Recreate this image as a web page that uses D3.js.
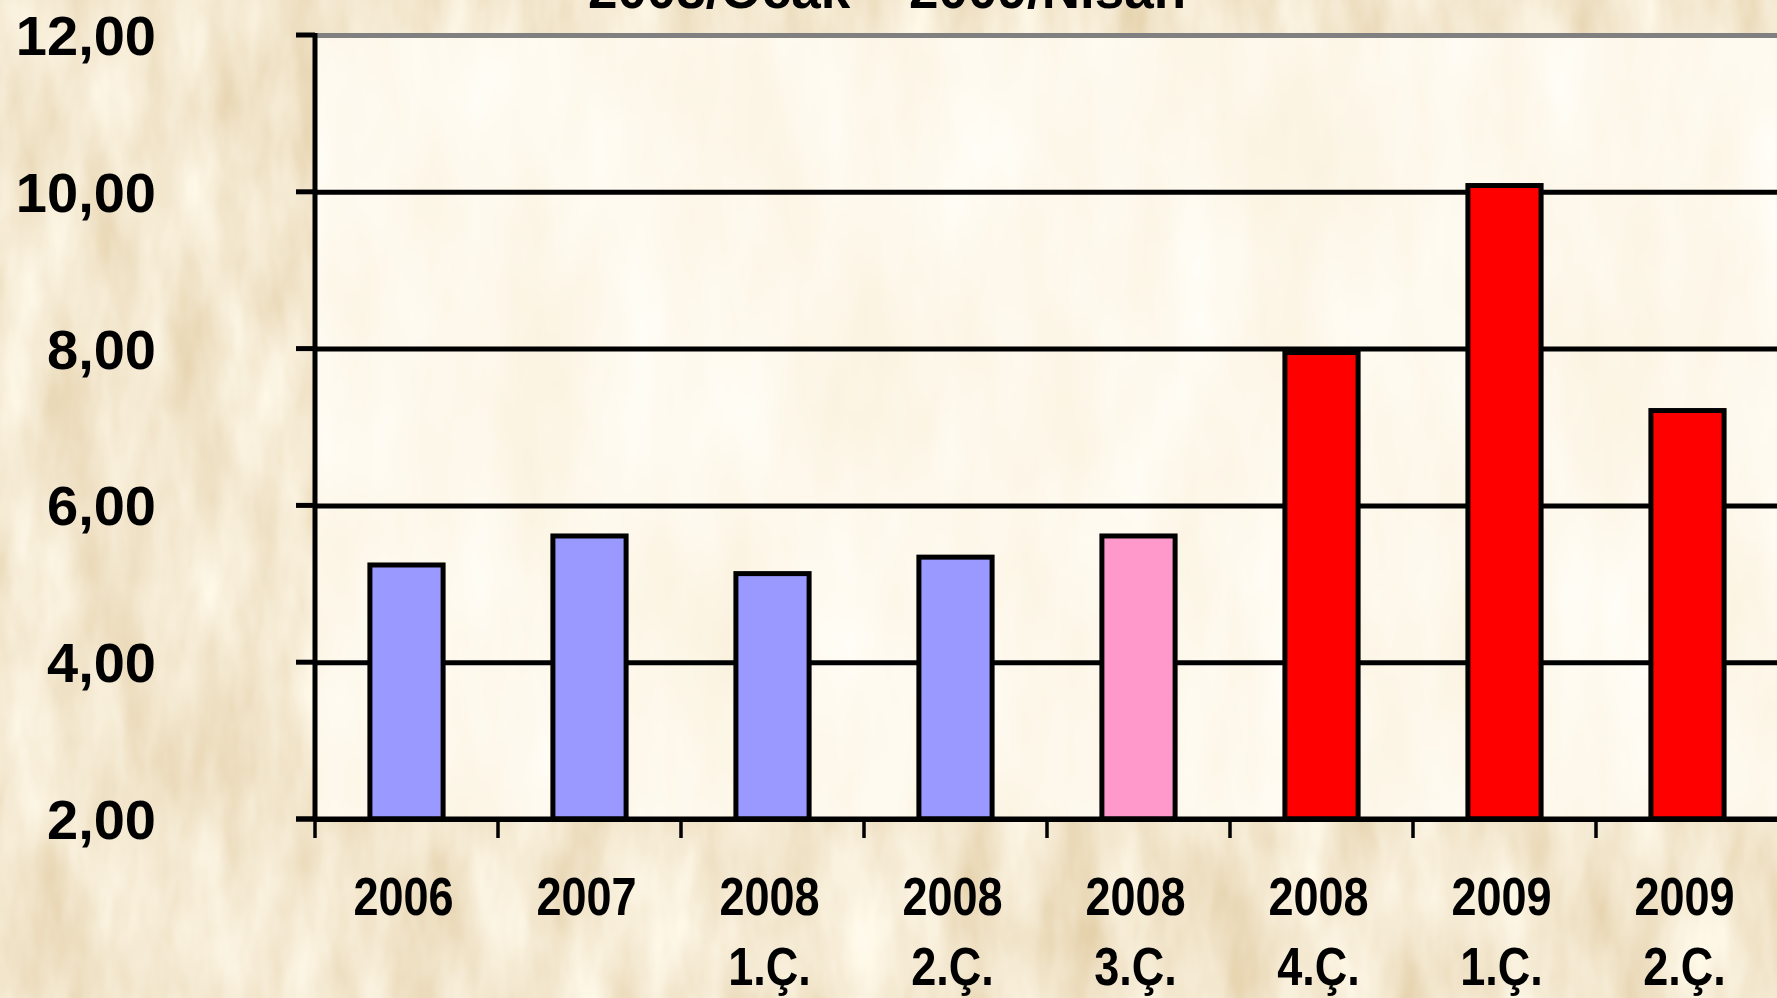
<!DOCTYPE html>
<html>
<head>
<meta charset="utf-8">
<script src="https://cdn.jsdelivr.net/npm/d3@7"></script>
<style>
  html, body { margin: 0; padding: 0; overflow: hidden; background: #e4cc9c; }
  svg { display: block; }
</style>
</head>
<body>
<svg id="chart"></svg>
<script>
'use strict';

const years = ['2006', '2007', '2008', '2008', '2008', '2008', '2009', '2009'];
const quarters = ['', '', '1.Ç.', '2.Ç.', '3.Ç.', '4.Ç.', '1.Ç.', '2.Ç.'];
const values = [5.24, 5.61, 5.13, 5.34, 5.61, 7.95, 10.08, 7.21];
const groups = ['yil', 'yil', 'yil', 'yil', 'onceki', 'kriz', 'kriz', 'kriz'];
const yTicks = [2, 4, 6, 8, 10, 12];
const title = '2008/Ocak – 2009/Nisan';

const WIDTH = 1777;
const HEIGHT = 998;
const PLOT_LEFT = 315;
const PLOT_RIGHT = 1779;
const PLOT_TOP = 35;
const PLOT_BOTTOM = 819;
const TICK = 19;
const BAR_RATIO = 0.4;
const LINE_W = 5;
const FONT = '"Liberation Sans", Arial, sans-serif';

let svg = d3.select('#chart')
  .attr('width', WIDTH)
  .attr('height', HEIGHT);

let defs = svg.append('defs');

// parchment texture, outer and plot area
function paperFilter(id, freq, seed, rows) {
  let f = defs.append('filter')
    .attr('id', id)
    .attr('x', 0).attr('y', 0)
    .attr('width', 1).attr('height', 1);
  f.append('feTurbulence')
    .attr('type', 'fractalNoise')
    .attr('baseFrequency', freq)
    .attr('numOctaves', 4)
    .attr('seed', seed);
  f.append('feColorMatrix')
    .attr('type', 'matrix')
    .attr('values', rows);
}

paperFilter('paper', '0.018 0.006', 7,
  '0.304 0 0 0 0.748  0.441 0 0 0 0.585  0.588 0 0 0 0.334  0 0 0 0 1');
paperFilter('cream', '0.012 0.004', 11,
  '0.069 0 0 0 0.952  0.128 0 0 0 0.876  0.255 0 0 0 0.708  0 0 0 0 1');

svg.append('rect')
  .attr('width', WIDTH)
  .attr('height', HEIGHT)
  .attr('filter', 'url(#paper)');

let x = d3.scaleBand()
  .domain(d3.range(values.length))
  .range([PLOT_LEFT, PLOT_RIGHT])
  .padding(0);

let y = d3.scaleLinear()
  .domain([2, 12])
  .range([PLOT_BOTTOM, PLOT_TOP]);

let color = d3.scaleOrdinal()
  .domain(['yil', 'onceki', 'kriz'])
  .range(['#9999ff', '#ff99cc', '#ff0000']);

svg.append('rect')
  .attr('x', PLOT_LEFT)
  .attr('y', PLOT_TOP)
  .attr('width', PLOT_RIGHT - PLOT_LEFT)
  .attr('height', PLOT_BOTTOM - PLOT_TOP)
  .attr('filter', 'url(#cream)');

// title, mostly cut off by the top edge as in the source slide
svg.append('text')
  .attr('x', 887)
  .attr('y', 8)
  .attr('text-anchor', 'middle')
  .attr('font-family', FONT)
  .attr('font-weight', 'bold')
  .attr('font-size', 53)
  .text(title);

// gridlines: the top one is the grey plot border
let yAxis = d3.axisLeft(y)
  .tickValues(yTicks)
  .tickSize(-(PLOT_RIGHT - PLOT_LEFT))
  .tickSizeOuter(0)
  .tickFormat('');

let grid = svg.append('g')
  .attr('transform', 'translate(' + PLOT_LEFT + ',0)')
  .call(yAxis);
grid.select('.domain').remove();
grid.selectAll('.tick line')
  .attr('stroke', function(d) { return d === 12 ? '#808080' : '#000'; })
  .attr('stroke-width', LINE_W);

// small ticks left of the axis
svg.append('g')
  .selectAll('line')
  .data(yTicks)
  .enter().append('line')
    .attr('x1', PLOT_LEFT - TICK)
    .attr('x2', PLOT_LEFT)
    .attr('y1', function(d) { return y(d); })
    .attr('y2', function(d) { return y(d); })
    .attr('stroke', '#000')
    .attr('stroke-width', LINE_W);

svg.append('g')
  .selectAll('text')
  .data(yTicks)
  .enter().append('text')
    .attr('x', 156)
    .attr('y', function(d) { return y(d) + 20; })
    .attr('text-anchor', 'end')
    .attr('font-family', FONT)
    .attr('font-weight', 'bold')
    .attr('font-size', 56)
    .text(function(d) { return d3.format('.2f')(d).replace('.', ','); });

// bars
let barW = x.bandwidth() * BAR_RATIO;
svg.append('g')
  .selectAll('rect')
  .data(values)
  .enter().append('rect')
    .attr('x', function(d, i) { return x(i) + (x.bandwidth() - barW) / 2; })
    .attr('y', function(d) { return y(d); })
    .attr('width', barW)
    .attr('height', function(d) { return y(2) - y(d); })
    .attr('fill', function(d, i) { return color(groups[i]); })
    .attr('stroke', '#000')
    .attr('stroke-width', LINE_W);

// axes
svg.append('line')
  .attr('x1', PLOT_LEFT).attr('x2', PLOT_LEFT)
  .attr('y1', PLOT_TOP - 2).attr('y2', PLOT_BOTTOM)
  .attr('stroke', '#000')
  .attr('stroke-width', LINE_W);

svg.append('line')
  .attr('x1', PLOT_LEFT - TICK).attr('x2', PLOT_RIGHT)
  .attr('y1', PLOT_BOTTOM).attr('y2', PLOT_BOTTOM)
  .attr('stroke', '#000')
  .attr('stroke-width', LINE_W);

let edges = d3.range(values.length + 1).map(function(i) {
  return PLOT_LEFT + i * x.step();
});

svg.append('g')
  .selectAll('line')
  .data(edges)
  .enter().append('line')
    .attr('x1', function(d) { return d; })
    .attr('x2', function(d) { return d; })
    .attr('y1', PLOT_BOTTOM)
    .attr('y2', PLOT_BOTTOM + TICK)
    .attr('stroke', '#000')
    .attr('stroke-width', 3.5);

// category labels, narrow bold
let labels = svg.append('g')
  .selectAll('g')
  .data(years)
  .enter().append('g')
    .attr('transform', function(d, i) {
      return 'translate(' + (x(i) + x.bandwidth() / 2 - 3) + ',0) scale(0.85,1)';
    })
    .attr('font-family', FONT)
    .attr('font-weight', 'bold')
    .attr('font-size', 53)
    .attr('text-anchor', 'middle');

labels.append('text')
  .attr('y', 915)
  .text(function(d) { return d; });

labels.append('text')
  .attr('y', 985)
  .text(function(d, i) { return quarters[i]; });
</script>
</body>
</html>
